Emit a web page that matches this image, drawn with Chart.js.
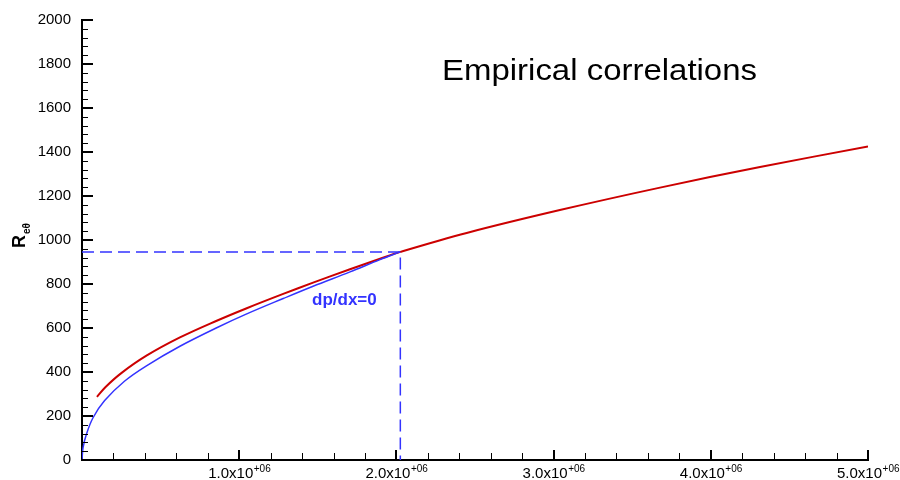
<!DOCTYPE html>
<html>
<head>
<meta charset="utf-8">
<script src="https://cdn.jsdelivr.net/npm/chart.js@4.4.1/dist/chart.umd.min.js"></script>
<style>
  html, body { margin: 0; padding: 0; background: #fff; }
  #wrap { width: 900px; height: 480px; position: relative; }
</style>
</head>
<body>
<div id="wrap"><canvas id="c" width="900" height="480"></canvas></div>
<script>
// ---- data ----
const titleText = "Empirical correlations";
const annotationText = "dp/dx=0";
const yTitleMain = "R";
const yTitleSub = "eθ";

// blue curve: zero-pressure-gradient laminar correlation
const blueX = [0, 6400, 27000, 70000, 144000, 270000, 410000, 623000, 857000, 1048000, 1280000, 1470000, 1705000, 1896000, 2025000];
const blueY = [0, 55, 115, 192, 270, 358, 428, 517, 601, 664, 734, 790, 855, 911, 946];

// red curve: empirical correlation
const redX = [95000, 150000, 250000, 410000, 623000, 857000, 1048000, 1280000, 1470000, 1705000, 1896000, 2025000, 2447000, 3040000, 3677000, 4313000, 5000000];
const redY = [287, 332, 395, 474, 557, 633, 690, 755, 806, 867, 915, 946, 1032, 1136, 1238, 1332, 1425];

// dashed guide lines through the crossing point
const dashX = [0, 2025000, 2025000];
const dashY = [946, 946, 0];

// axis ranges / ticks
const xMin = 0, xMax = 5000000, xMajor = 1000000, xMinor = 200000;
const yMin = 0, yMax = 2000, yMajor = 200, yMinor = 40;
const xTickMantissa = ["1.0x10", "2.0x10", "3.0x10", "4.0x10", "5.0x10"];
const xTickExp = "+06";
const xTickValues = [1000000, 2000000, 3000000, 4000000, 5000000];

const toPts = (xs, ys) => xs.map((x, i) => ({ x: x, y: ys[i] }));

const FONT = "'Liberation Sans', Arial, Helvetica, sans-serif";
const BLUE = "#3333ff";
const RED = "#cc0000";

const decorations = {
  id: "decorations",
  afterDraw(chart) {
    const ctx = chart.ctx;
    const xs = chart.scales.x, ys = chart.scales.y;
    const left = chart.chartArea.left, bottom = chart.chartArea.bottom;
    ctx.save();
    ctx.strokeStyle = "#000";
    // y ticks (inward)
    for (let v = yMin; v <= yMax + 1e-9; v += yMinor) {
      const major = Math.abs(v / yMajor - Math.round(v / yMajor)) < 1e-6;
      const py = Math.round(ys.getPixelForValue(v)) + (major ? 0 : 0.5);
      ctx.lineWidth = major ? 2 : 1;
      ctx.beginPath();
      ctx.moveTo(left, py);
      ctx.lineTo(left + (major ? 11 : 6), py);
      ctx.stroke();
    }
    // x ticks (inward)
    for (let v = xMin + xMinor; v <= xMax + 1; v += xMinor) {
      const major = Math.abs(v / xMajor - Math.round(v / xMajor)) < 1e-6;
      const px = Math.round(xs.getPixelForValue(v)) + (major ? 0 : 0.5);
      ctx.lineWidth = major ? 2 : 1;
      ctx.beginPath();
      ctx.moveTo(px, bottom);
      ctx.lineTo(px, bottom - (major ? 10 : 7));
      ctx.stroke();
    }
    // x tick labels with superscript exponent
    ctx.fillStyle = "#000";
    ctx.textBaseline = "alphabetic";
    ctx.textAlign = "left";
    xTickValues.forEach((v, i) => {
      const px = xs.getPixelForValue(v);
      ctx.font = "15px " + FONT;
      const w1 = ctx.measureText(xTickMantissa[i]).width;
      ctx.font = "10px " + FONT;
      const w2 = ctx.measureText(xTickExp).width;
      const x0 = px - (w1 + w2) / 2;
      ctx.font = "15px " + FONT;
      ctx.fillText(xTickMantissa[i], x0, 478);
      ctx.font = "10px " + FONT;
      ctx.fillText(xTickExp, x0 + w1 + 0.5, 472);
    });
    // y axis title, rotated, with subscript
    ctx.save();
    ctx.translate(25, 248);
    ctx.rotate(-Math.PI / 2);
    ctx.font = "bold 18px " + FONT;
    ctx.fillText(yTitleMain, 0, 0);
    const wR = ctx.measureText(yTitleMain).width;
    ctx.font = "bold 10px " + FONT;
    ctx.fillText(yTitleSub, wR + 1, 5);
    ctx.restore();
    // annotation
    ctx.fillStyle = BLUE;
    ctx.font = "bold 17px " + FONT;
    ctx.fillText(annotationText, 312, 305);
    // title
    ctx.fillStyle = "#000";
    ctx.font = "30px " + FONT;
    const tw = ctx.measureText(titleText).width;
    ctx.save();
    ctx.translate(442, 80);
    ctx.scale(315 / tw, 1);
    ctx.fillText(titleText, 0, 0);
    ctx.restore();
    ctx.restore();
  }
};

new Chart(document.getElementById("c"), {
  type: "line",
  data: {
    datasets: [
      {
        label: "guide",
        data: toPts(dashX, dashY),
        borderColor: BLUE,
        borderWidth: 1.5,
        borderDash: [12, 6],
        pointRadius: 0,
        tension: 0,
        fill: false
      },
      {
        label: "laminar",
        data: toPts(blueX, blueY),
        borderColor: BLUE,
        borderWidth: 1.5,
        pointRadius: 0,
        tension: 0.35,
        fill: false
      },
      {
        label: "empirical",
        data: toPts(redX, redY),
        borderColor: RED,
        borderWidth: 2,
        pointRadius: 0,
        tension: 0.35,
        fill: false
      }
    ]
  },
  options: {
    responsive: false,
    animation: false,
    devicePixelRatio: 1,
    layout: { padding: { left: 0, right: 32, top: 18, bottom: 0 } },
    plugins: { legend: { display: false }, tooltip: { enabled: false }, title: { display: false } },
    scales: {
      x: {
        type: "linear",
        min: xMin, max: xMax,
        grid: { display: false },
        border: { display: true, color: "#000", width: 2 },
        ticks: { display: false },
        afterFit(s) { s.height = 18; }
      },
      y: {
        type: "linear",
        min: yMin, max: yMax,
        grid: { display: false, drawTicks: false },
        border: { display: true, color: "#000", width: 2 },
        ticks: {
          stepSize: yMajor,
          color: "#000",
          padding: 11,
          font: { family: FONT, size: 15 },
          callback: (v) => String(v)
        },
        afterFit(s) { s.width = 82; }
      }
    }
  },
  plugins: [decorations]
});
</script>
</body>
</html>
